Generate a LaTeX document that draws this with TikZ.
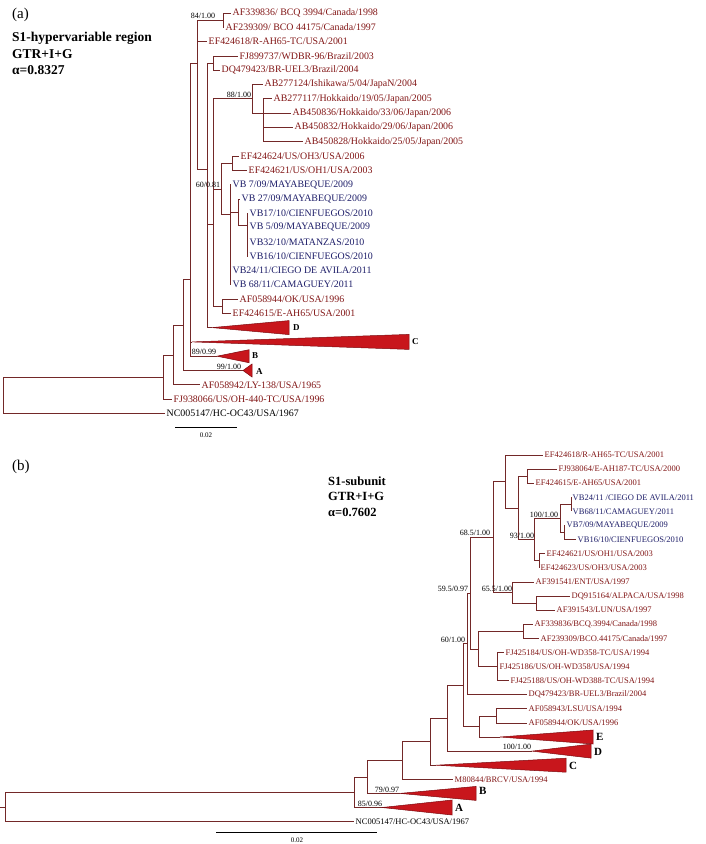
\documentclass[tikz,border=0pt]{standalone}
\usepackage{fontspec}
\setmainfont{Liberation Serif}
\definecolor{taxred}{RGB}{130,22,22}
\definecolor{taxblue}{RGB}{30,30,105}
\definecolor{brcol}{RGB}{115,40,40}
\definecolor{cladefill}{RGB}{200,22,28}
\definecolor{cladeedge}{RGB}{125,10,15}

\begin{document}
\begin{tikzpicture}[
  x=1pt, y=-1pt,
  br/.style={draw=brcol, line width=0.7pt},
  taxa/.style={anchor=west, inner sep=1.5pt, text=taxred, font=\fontsize{9.9}{10}\selectfont},
  vba/.style={taxa, text=taxblue},
  taxb/.style={anchor=west, inner sep=1.5pt, text=taxred, font=\fontsize{8.5}{9}\selectfont},
  vbb/.style={taxb, text=taxblue},
  boot/.style={anchor=south east, inner sep=0.6pt, font=\fontsize{8}{8}\selectfont},
  clade/.style={draw=cladeedge, fill=cladefill, line width=0.5pt},
  cladea/.style={anchor=west, inner sep=1pt, font=\bfseries\fontsize{9}{10}\selectfont},
  cladeb/.style={anchor=west, inner sep=1pt, font=\bfseries\fontsize{11}{12}\selectfont},
  title/.style={anchor=base west, inner sep=0pt, font=\bfseries\fontsize{13.5}{16}\selectfont},
  panel/.style={anchor=west, inner sep=0pt, font=\fontsize{15}{17}\selectfont},
  scalebar/.style={draw=black, line width=0.6pt},
  scalelbl/.style={inner sep=0pt, font=\fontsize{7}{7}\selectfont}
]
  \fill[white] (0,0) rectangle (705,844);
  \useasboundingbox (0,0) rectangle (705,844);

  % (a) S1-hypervariable region
  \node[panel] (apanel) at (12,15) {(a)};
  \node[title] (atitle1) at (12,41.5) {S1-hypervariable region};
  \node[title] (atitle2) at (12,58) {GTR+I+G};
  \node[title] (atitle3) at (12,74.5) {α=0.8327};

  \coordinate (aroot) at (3,395.2);
  \coordinate (aN1) at (163,377);
  \coordinate (aN2) at (173,354.9);
  \coordinate (aN3) at (183,324.9);
  \coordinate (aN4) at (190,279.3);
  \coordinate (aN4b) at (190,202.4);
  \coordinate (aQ) at (197,62.9);
  \coordinate (aQ2) at (197,105.6);
  \coordinate (a84) at (223,20.2);
  \coordinate (aR) at (207,169.6);
  \coordinate (aR2) at (207,276.2);
  \coordinate (aFJDQ) at (213,63);
  \coordinate (aT) at (213,224.8);
  \coordinate (aT1) at (213,143.4);
  \coordinate (a88) at (252,98.8);
  \coordinate (aAB2) at (263,113.1);
  \coordinate (aAB3) at (263,127.4);
  \coordinate (a60) at (221,189);
  \coordinate (aOH) at (232,163.2);
  \coordinate (aVB) at (230,214);
  \coordinate (aVB2) at (238,212.3);
  \coordinate (aVB3) at (247,225.7);
  \coordinate (aOK) at (222,306.2);

  \node[taxa] (aAF339836) at (231,13) {AF339836/ BCQ 3994/Canada/1998};
  \node[taxa] (aAF239309) at (224,27.3) {AF239309/ BCO 44175/Canada/1997};
  \node[taxa] (aEF424618) at (207,41.6) {EF424618/R-AH65-TC/USA/2001};
  \node[taxa] (aFJ899737) at (238,55.9) {FJ899737/WDBR-96/Brazil/2003};
  \node[taxa] (aDQ479423) at (220,70.2) {DQ479423/BR-UEL3/Brazil/2004};
  \node[taxa] (aAB277124) at (263,84.5) {AB277124/Ishikawa/5/04/JapaN/2004};
  \node[taxa] (aAB277117) at (272,98.8) {AB277117/Hokkaido/19/05/Japan/2005};
  \node[taxa] (aAB450836) at (291,113.1) {AB450836/Hokkaido/33/06/Japan/2006};
  \node[taxa] (aAB450832) at (293,127.4) {AB450832/Hokkaido/29/06/Japan/2006};
  \node[taxa] (aAB450828) at (303,141.7) {AB450828/Hokkaido/25/05/Japan/2005};
  \node[taxa] (aEF424624) at (239,156) {EF424624/US/OH3/USA/2006};
  \node[taxa] (aEF424621) at (247,170.3) {EF424621/US/OH1/USA/2003};
  \node[vba] (aVB709) at (231,184.6) {VB 7/09/MAYABEQUE/2009};
  \node[vba] (aVB2709) at (240,198.9) {VB 27/09/MAYABEQUE/2009};
  \node[vba] (aVB1710) at (248,213.2) {VB17/10/CIENFUEGOS/2010};
  \node[vba] (aVB509) at (248,227.5) {VB 5/09/MAYABEQUE/2009};
  \node[vba] (aVB3210) at (248,241.8) {VB32/10/MATANZAS/2010};
  \node[vba] (aVB1610) at (248,256.1) {VB16/10/CIENFUEGOS/2010};
  \node[vba] (aVB2411) at (231,270.4) {VB24/11/CIEGO DE AVILA/2011};
  \node[vba] (aVB6811) at (231,284.7) {VB 68/11/CAMAGUEY/2011};
  \node[taxa] (aAF058944) at (238,299) {AF058944/OK/USA/1996};
  \node[taxa] (aEF424615) at (231,313.3) {EF424615/E-AH65/USA/2001};
  \node[taxa] (aAF058942) at (200,384.8) {AF058942/LY-138/USA/1965};
  \node[taxa] (aFJ938066) at (172,399.1) {FJ938066/US/OH-440-TC/USA/1996};
  \node[taxa, text=black] (aNC005147) at (165,413.4) {NC005147/HC-OC43/USA/1967};

  % collapsed clades
  \coordinate (aD) at (212,327.6);
  \coordinate (aC) at (192,341.9);
  \coordinate (aB) at (217,356.2);
  \coordinate (aA) at (243,370.5);
  \draw[clade] (aD) -- (289,320.6) -- (289,334.6) -- cycle;
  \draw[clade] (aC) -- (409,334.4) -- (409,349.4) -- cycle;
  \draw[clade] (aB) -- (249,349.7) -- (249,362.7) -- cycle;
  \draw[clade] (aA) -- (252,364) -- (252,377) -- cycle;
  \node[cladea] (aDl) at (292,327.6) {D};
  \node[cladea] (aCl) at (411,342) {C};
  \node[cladea] (aBl) at (251,355.5) {B};
  \node[cladea] (aAl) at (255,371.5) {A};

  \draw[br] (aroot) |- (aN1) (aroot) |- (aNC005147.west);
  \draw[br] (aN1) |- (aN2) (aN1) |- (aFJ938066.west);
  \draw[br] (aN2) |- (aN3) (aN2) |- (aAF058942.west);
  \draw[br] (aN3) |- (aN4) (aN3) |- (aA);
  \draw[br] (aN4) |- (aN4b) (aN4) |- (aB);
  \draw[br] (aN4b) |- (aQ) (aN4b) |- (aC);
  \draw[br] (aQ) |- (a84) (aQ) |- (aQ2);
  \draw[br] (aQ2) |- (aEF424618.west) (aQ2) |- (aR);
  \draw[br] (aR) |- (aFJDQ) (aR) |- (aR2);
  \draw[br] (aR2) |- (aT) (aR2) |- (aD);
  \draw[br] (aT) |- (aT1) (aT) |- (aOK);
  \draw[br] (aT1) |- (a88) (aT1) |- (a60);
  \draw[br] (a84) |- (aAF339836.west) (a84) |- (aAF239309.west);
  \draw[br] (aFJDQ) |- (aFJ899737.west) (aFJDQ) |- (aDQ479423.west);
  \draw[br] (a88) |- (aAB277124.west) (a88) |- (aAB2);
  \draw[br] (aAB2) |- (aAB277117.west) (aAB2) |- (aAB3);
  \draw[br] (aAB3) |- (aAB450836.west) (aAB3) |- (aAB450832.west)
            (aAB3) |- (aAB450828.west);
  \draw[br] (a60) |- (aOH) (a60) |- (aVB);
  \draw[br] (aOH) |- (aEF424624.west) (aOH) |- (aEF424621.west);
  \draw[br] (aVB) |- (aVB709.west) (aVB) |- (aVB2)
            (aVB) |- (aVB2411.west) (aVB) |- (aVB6811.west);
  \draw[br] (aVB2) |- (aVB2709.west) (aVB2) |- (aVB3);
  \draw[br] (aVB3) |- (aVB1710.west) (aVB3) |- (aVB509.west)
            (aVB3) |- (aVB3210.west) (aVB3) |- (aVB1610.west);
  \draw[br] (aOK) |- (aAF058944.west) (aOK) |- (aEF424615.west);

  \node[boot] (abs84) at (216,19.5) {84/1.00};
  \node[boot] (abs88) at (252,98) {88/1.00};
  \node[boot] (abs60) at (221,188.5) {60/0.81};
  \node[boot] (abs89) at (217,355.8) {89/0.99};
  \node[boot] (abs99) at (242,370) {99/1.00};

  \coordinate (asb1) at (175,427);
  \coordinate (asb2) at (237,427);
  \draw[scalebar] (asb1) -- (asb2);
  \node[scalelbl] (asbl) at (206,435.5) {0.02};

  % (b) S1-subunit
  \node[panel] (bpanel) at (12,467) {(b)};
  \node[title, font=\bfseries\fontsize{12.5}{15}\selectfont] (btitle1) at (328,485.3) {S1-subunit};
  \node[title, font=\bfseries\fontsize{12.5}{15}\selectfont] (btitle2) at (328,500.5) {GTR+I+G};
  \node[title, font=\bfseries\fontsize{12.5}{15}\selectfont] (btitle3) at (328,516.5) {α=0.7602};

  \coordinate (bstub) at (0,806.9);
  \coordinate (broot) at (5,806.9);
  \coordinate (bNf) at (354,792.2);
  \coordinate (bNe) at (367,777);
  \coordinate (bNd) at (402,760.5);
  \coordinate (bNc) at (430,741.6);
  \coordinate (bNb) at (447,718.1);
  \coordinate (bNa) at (463,685.1);
  \coordinate (bN60) at (467,643.8);
  \coordinate (bN59) at (470,592.9);
  \coordinate (bN68) at (493,537);
  \coordinate (bN505) at (505,481.5);
  \coordinate (bN518) at (518,507.9);
  \coordinate (bFJEF) at (527,476.2);
  \coordinate (bN93) at (534,539.6);
  \coordinate (bVB) at (560,518.5);
  \coordinate (bVB2468) at (571,504.4);
  \coordinate (bVB716) at (564,532.6);
  \coordinate (bOH) at (539,560.8);
  \coordinate (bN65) at (512,592.5);
  \coordinate (bLUN) at (536,603);
  \coordinate (bN478) at (478,648.9);
  \coordinate (bBCQ) at (523,631.3);
  \coordinate (bWD) at (497,666.5);
  \coordinate (bN479) at (479,726.4);
  \coordinate (bOK) at (496,715.9);

  \node[taxb] (bEF424618) at (543,455) {EF424618/R-AH65-TC/USA/2001};
  \node[taxb] (bFJ938064) at (557,469.1) {FJ938064/E-AH187-TC/USA/2000};
  \node[taxb] (bEF424615) at (534,483.2) {EF424615/E-AH65/USA/2001};
  \node[vbb] (bVB2411) at (571,497.3) {VB24/11 /CIEGO DE AVILA/2011};
  \node[vbb] (bVB6811) at (571,511.4) {VB68/11/CAMAGUEY/2011};
  \node[vbb] (bVB709) at (565,525.5) {VB7/09/MAYABEQUE/2009};
  \node[vbb] (bVB1610) at (576,539.6) {VB16/10/CIENFUEGOS/2010};
  \node[taxb] (bEF424621) at (545,553.7) {EF424621/US/OH1/USA/2003};
  \node[taxb] (bEF424623) at (539,567.8) {EF424623/US/OH3/USA/2003};
  \node[taxb] (bAF391541) at (534,581.9) {AF391541/ENT/USA/1997};
  \node[taxb] (bDQ915164) at (570,596) {DQ915164/ALPACA/USA/1998};
  \node[taxb] (bAF391543) at (555,610.1) {AF391543/LUN/USA/1997};
  \node[taxb] (bAF339836) at (533,624.2) {AF339836/BCQ.3994/Canada/1998};
  \node[taxb] (bAF239309) at (539,638.3) {AF239309/BCO.44175/Canada/1997};
  \node[taxb] (bFJ425184) at (504,652.4) {FJ425184/US/OH-WD358-TC/USA/1994};
  \node[taxb] (bFJ425186) at (498,666.5) {FJ425186/US/OH-WD358/USA/1994};
  \node[taxb] (bFJ425188) at (509,680.6) {FJ425188/US/OH-WD388-TC/USA/1994};
  \node[taxb] (bDQ479423) at (527,694.7) {DQ479423/BR-UEL3/Brazil/2004};
  \node[taxb] (bAF058943) at (527,708.8) {AF058943/LSU/USA/1994};
  \node[taxb] (bAF058944) at (527,722.9) {AF058944/OK/USA/1996};
  \node[taxb] (bM80844) at (453,779.3) {M80844/BRCV/USA/1994};
  \node[taxb, text=black] (bNC005147) at (354,821.6) {NC005147/HC-OC43/USA/1967};

  % collapsed clades
  \coordinate (bE) at (500,737);
  \coordinate (bD) at (532,751.1);
  \coordinate (bC) at (436,765.2);
  \coordinate (bB) at (400,793.4);
  \coordinate (bA) at (382,807.5);
  \draw[clade] (bE) -- (593,730) -- (593,744) -- cycle;
  \draw[clade] (bD) -- (591,744.1) -- (591,758.1) -- cycle;
  \draw[clade] (bC) -- (566,758.2) -- (566,772.2) -- cycle;
  \draw[clade] (bB) -- (476,786.4) -- (476,800.4) -- cycle;
  \draw[clade] (bA) -- (452,800) -- (452,815) -- cycle;
  \node[cladeb] (bEl) at (595,737) {E};
  \node[cladeb] (bDl) at (593,751.5) {D};
  \node[cladeb] (bCl) at (568,765.5) {C};
  \node[cladeb] (bBl) at (478,791) {B};
  \node[cladeb] (bAl) at (454,807.5) {A};

  \draw[br] (bstub) -- (broot);
  \draw[br] (broot) |- (bNf) (broot) |- (bNC005147.west);
  \draw[br] (bNf) |- (bNe) (bNf) |- (bA);
  \draw[br] (bNe) |- (bNd) (bNe) |- (bB);
  \draw[br] (bNd) |- (bNc) (bNd) |- (bM80844.west);
  \draw[br] (bNc) |- (bNb) (bNc) |- (bC);
  \draw[br] (bNb) |- (bNa) (bNb) |- (bD);
  \draw[br] (bNa) |- (bN60) (bNa) |- (bN479);
  \draw[br] (bN60) |- (bN59) (bN60) |- (bDQ479423.west);
  \draw[br] (bN59) |- (bN68) (bN59) |- (bN478);
  \draw[br] (bN68) |- (bN505) (bN68) |- (bN65);
  \draw[br] (bN505) |- (bEF424618.west) (bN505) |- (bN518);
  \draw[br] (bN518) |- (bFJEF) (bN518) |- (bN93);
  \draw[br] (bFJEF) |- (bFJ938064.west) (bFJEF) |- (bEF424615.west);
  \draw[br] (bN93) |- (bVB) (bN93) |- (bOH);
  \draw[br] (bVB) |- (bVB2468) (bVB) |- (bVB716);
  \draw[br] (bVB2468) |- (bVB2411.west) (bVB2468) |- (bVB6811.west);
  \draw[br] (bVB716) |- (bVB709.west) (bVB716) |- (bVB1610.west);
  \draw[br] (bOH) |- (bEF424621.west) (bOH) |- (bEF424623.west);
  \draw[br] (bN65) |- (bAF391541.west) (bN65) |- (bLUN);
  \draw[br] (bLUN) |- (bDQ915164.west) (bLUN) |- (bAF391543.west);
  \draw[br] (bN478) |- (bBCQ) (bN478) |- (bWD);
  \draw[br] (bBCQ) |- (bAF339836.west) (bBCQ) |- (bAF239309.west);
  \draw[br] (bWD) |- (bFJ425184.west) (bWD) |- (bFJ425186.west)
            (bWD) |- (bFJ425188.west);
  \draw[br] (bN479) |- (bOK) (bN479) |- (bE);
  \draw[br] (bOK) |- (bAF058943.west) (bOK) |- (bAF058944.west);

  \node[boot] (bbs68) at (491,536.5) {68.5/1.00};
  \node[boot] (bbs93) at (535,539) {93/1.00};
  \node[boot] (bbs100) at (559,518) {100/1.00};
  \node[boot] (bbs65) at (513,592) {65.5/1.00};
  \node[boot] (bbs59) at (469,592.5) {59.5/0.97};
  \node[boot] (bbs60) at (466,643.5) {60/1.00};
  \node[boot] (bbsD) at (532,750.5) {100/1.00};
  \node[boot] (bbs79) at (400,793) {79/0.97};
  \node[boot] (bbs85) at (383,807) {85/0.96};

  \coordinate (bsb1) at (216,832);
  \coordinate (bsb2) at (377,832);
  \draw[scalebar] (bsb1) -- (bsb2);
  \node[scalelbl] (bsbl) at (297,840.5) {0.02};
\end{tikzpicture}
\end{document}
